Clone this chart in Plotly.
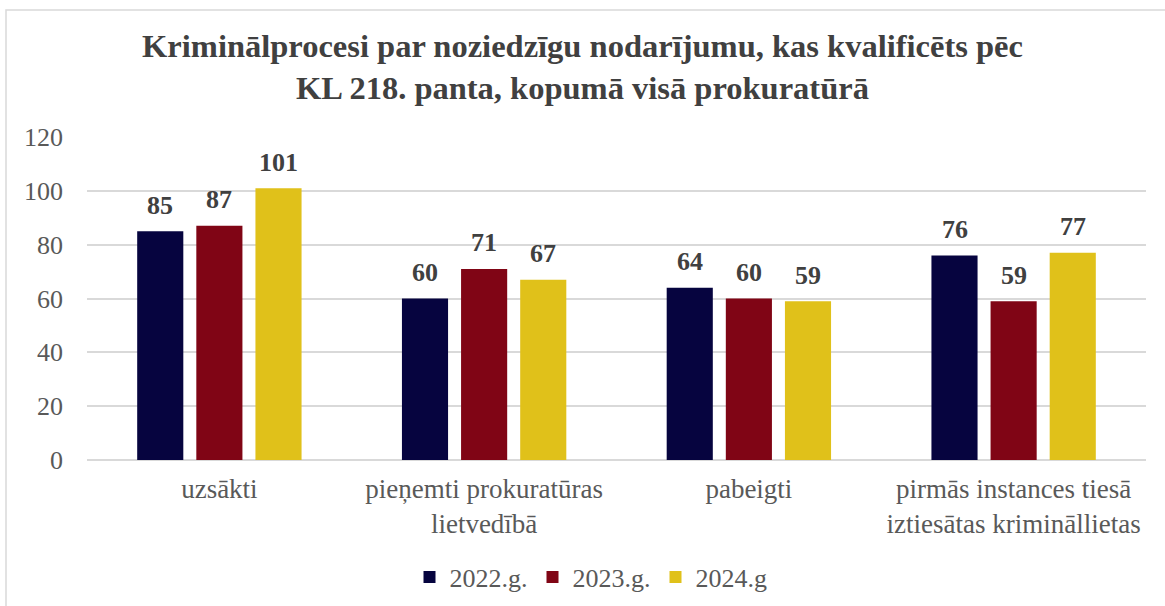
import plotly.graph_objects as go

categories = ["uzsākti", "pieņemti prokuratūras<br>lietvedībā", "pabeigti",
              "pirmās instances tiesā<br>iztiesātas krimināllietas"]
series_names = ["2022.g.", "2023.g.", "2024.g"]
values_2022 = [85, 60, 64, 76]
values_2023 = [87, 71, 60, 59]
values_2024 = [101, 67, 59, 77]
colors = ["#06043F", "#800515", "#E0C11A"]
y_ticks = [0, 20, 40, 60, 80, 100, 120]

serif = "Liberation Serif"

L, R, T, B = 87, 19, 137, 146
W, H = 1165, 606
pw, ph = W - L - R, H - T - B

def px_x(p):
    return (p - L) / pw

def px_y(p):
    return (H - B - p) / ph

# horizontal distance between neighbouring bars within a group (px)
slot_px = pw / len(categories) * (1 - 0.33) / len(series_names)

fig = go.Figure()
annotations = []
for i, (name, vals, col) in enumerate(zip(series_names, [values_2022, values_2023, values_2024], colors)):
    fig.add_trace(go.Bar(
        name=name, x=categories, y=vals,
        marker=dict(color=col, line=dict(width=0)),
    ))
    for cat, v in zip(categories, vals):
        annotations.append(dict(
            x=cat, y=v, xref="x", yref="y", text=f"<b>{v}</b>", showarrow=False,
            xshift=(i - 1) * slot_px, yshift=26, yanchor="middle",
            font=dict(family=serif, size=26, color="#404040"),
        ))

fig.update_layout(
    width=W, height=H,
    margin=dict(l=L, r=R, t=T, b=B, autoexpand=False),
    paper_bgcolor="white", plot_bgcolor="white",
    barmode="group", bargap=0.33, bargroupgap=0.22,
    title=dict(
        text="Kriminālprocesi par noziedzīgu nodarījumu, kas kvalificēts pēc<br>KL 218. panta, kopumā visā prokuratūrā",
        x=0.5, xanchor="center", y=1 - 57 / H, yanchor="middle",
        font=dict(family=serif, size=32.5, color="#404040", weight="bold"),
    ),
    font=dict(family=serif, color="#595959"),
    xaxis=dict(
        showgrid=False, showline=False, ticks="", ticklabelstandoff=10,
        automargin=False,
        tickfont=dict(family=serif, size=27, color="#595959"),
    ),
    yaxis=dict(
        range=[0, 120], tickvals=y_ticks, showgrid=True, gridcolor="#D9D9D9",
        gridwidth=1.5, zeroline=True, zerolinecolor="#D9D9D9", zerolinewidth=1.5,
        showline=False, ticks="", ticklabelstandoff=23, automargin=False,
        tickfont=dict(family=serif, size=26, color="#595959"),
    ),
    legend=dict(
        orientation="h", x=px_x(591), xanchor="center", y=px_y(577), yanchor="middle",
        font=dict(family=serif, size=26, color="#595959"),
        itemwidth=30, traceorder="normal",
    ),
    annotations=annotations,
    shapes=[dict(
        type="rect", xref="paper", yref="paper",
        x0=px_x(6), x1=px_x(1175), y0=px_y(620), y1=px_y(10),
        line=dict(color="#D9D9D9", width=1.5), fillcolor="rgba(0,0,0,0)", layer="below",
    )],
)

fig.write_html("out.html")
